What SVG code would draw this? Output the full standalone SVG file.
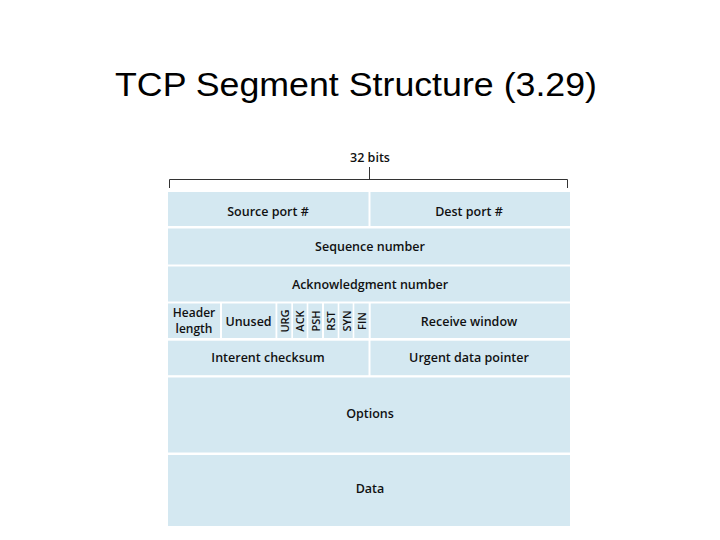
<svg xmlns="http://www.w3.org/2000/svg" width="720" height="540" viewBox="0 0 720 540">
<style>
.c{fill:#d4e8f1}
.t{font-family:"Open Sans","Noto Sans",sans-serif;font-size:12.5px;font-weight:600;fill:#111;text-anchor:middle;dominant-baseline:central}
.f{font-family:"Open Sans","Noto Sans",sans-serif;font-size:11px;font-weight:600;fill:#111;text-anchor:middle;dominant-baseline:central}
.b{stroke:#333;stroke-width:1;fill:none}
</style>
<rect width="720" height="540" fill="#fff"/>
<text x="356" y="96" font-family="Liberation Sans, Arial, sans-serif" font-size="33" text-anchor="middle" fill="#000" textLength="482" lengthAdjust="spacingAndGlyphs">TCP Segment Structure (3.29)</text>
<g id="connectors">
<path class="b" d="M169.5 188V179.5H567.5V188M369.5 167V179.5"/>
</g>
<text class="t" x="370" y="157">32 bits</text>
<g id="source-port"><rect class="c" x="168" y="192" width="200.5" height="34"/><text class="t" x="268" y="211">Source port #</text></g>
<g id="dest-port"><rect class="c" x="370.5" y="192" width="199.5" height="34"/><text class="t" x="469" y="211">Dest port #</text></g>
<g id="seq"><rect class="c" x="168" y="228.5" width="402" height="36"/><text class="t" x="370" y="246">Sequence number</text></g>
<g id="ack"><rect class="c" x="168" y="266.5" width="402" height="35"/><text class="t" x="370" y="284">Acknowledgment number</text></g>
<g id="header-length"><rect class="c" x="168" y="303.5" width="52" height="34.5"/><text class="t" x="194" y="312.5" style="font-size:12px">Header</text><text class="t" x="194" y="328" style="font-size:12px">length</text></g>
<g id="unused"><rect class="c" x="222" y="303.5" width="53.5" height="34.5"/><text class="t" x="248.5" y="321">Unused</text></g>
<g id="urg"><rect class="c" x="277.3" y="303.5" width="14" height="34.5"/><text class="f" transform="translate(284.3 321) rotate(-90)">URG</text></g>
<g id="ackf"><rect class="c" x="293" y="303.5" width="13.7" height="34.5"/><text class="f" transform="translate(299.8 321) rotate(-90)">ACK</text></g>
<g id="psh"><rect class="c" x="308.3" y="303.5" width="13.7" height="34.5"/><text class="f" transform="translate(315.2 321) rotate(-90)">PSH</text></g>
<g id="rst"><rect class="c" x="324" y="303.5" width="13.7" height="34.5"/><text class="f" transform="translate(330.8 321) rotate(-90)">RST</text></g>
<g id="syn"><rect class="c" x="339.3" y="303.5" width="13.4" height="34.5"/><text class="f" transform="translate(346 321) rotate(-90)">SYN</text></g>
<g id="fin"><rect class="c" x="354.3" y="303.5" width="14.4" height="34.5"/><text class="f" transform="translate(361.5 321) rotate(-90)">FIN</text></g>
<g id="receive-window"><rect class="c" x="370.7" y="303.5" width="199.3" height="34.5"/><text class="t" x="469" y="321">Receive window</text></g>
<g id="checksum"><rect class="c" x="168" y="340.7" width="200.5" height="34.5"/><text class="t" x="268" y="357">Interent checksum</text></g>
<g id="urgent"><rect class="c" x="370.5" y="340.7" width="199.5" height="34.5"/><text class="t" x="469" y="357">Urgent data pointer</text></g>
<g id="options"><rect class="c" x="168" y="377.5" width="402" height="75"/><text class="t" x="370" y="413">Options</text></g>
<g id="data"><rect class="c" x="168" y="455" width="402" height="71"/><text class="t" x="370" y="488">Data</text></g>
</svg>
